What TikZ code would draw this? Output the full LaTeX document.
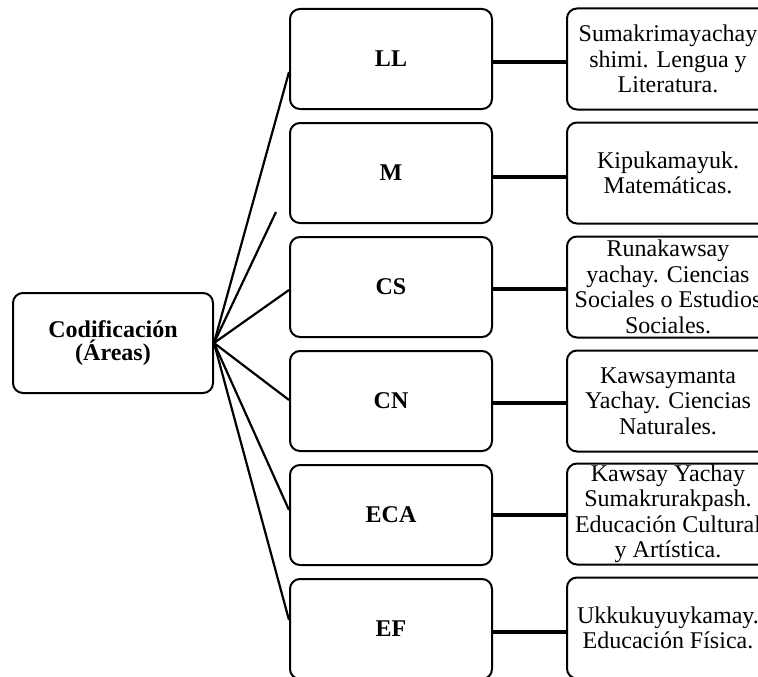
\documentclass[tikz,border=0pt]{standalone}
\usepackage{fontspec}
\setmainfont{Liberation Serif}
\begin{document}
\begin{tikzpicture}[x=1pt,y=-1pt,
  box/.style={draw, line width=2pt, rounded corners=10pt, minimum width=202pt,
    minimum height=100pt, inner sep=0pt, align=center},
  midbox/.style={box, font=\fontsize{24}{26}\selectfont\bfseries},
  descbox/.style={box, minimum height=101pt, font=\fontsize{24}{25.5}\selectfont},
  branch/.style={line width=2.2pt},
  link/.style={line width=3.4pt}]
\useasboundingbox (0,0) rectangle (758,677);
\clip (0,0) rectangle (758,677);

% root
\node[box, minimum width=200pt, font=\fontsize{24}{23.5}\selectfont\bfseries] (cod) at (113,343) {Codificación\\(Áreas)};

% middle column
\node[midbox] (ll)  at (391,59)  {LL};
\node[midbox] (m)   at (391,173) {M};
\node[midbox] (cs)  at (391,287) {CS};
\node[midbox] (cn)  at (391,401) {CN};
\node[midbox] (eca) at (391,515) {ECA};
\node[midbox] (ef)  at (391,629) {EF};

% right column
\node[descbox] (dll)  at (668,59)  {Sumakrimayachay\\shimi. Lengua y\\Literatura.};
\node[descbox] (dm)   at (668,173) {Kipukamayuk.\\Matemáticas.};
\node[descbox] (dcs)  at (668,287) {Runakawsay\\yachay. Ciencias\\Sociales o Estudios\\Sociales.};
\node[descbox] (dcn)  at (668,401) {Kawsaymanta\\Yachay. Ciencias\\Naturales.};
\node[descbox] (deca) at (668,514) {Kawsay Yachay\\Sumakrurakpash.\\Educación Cultural\\y Artística.};
\node[descbox] (def)  at (668,628) {Ukkukuyuykamay.\\Educación Física.};

% branches from root
\coordinate (stub) at (276,212);
\draw[branch] (cod.east) -- ([yshift=-13pt]ll.west);
\draw[branch] (cod.east) -- (stub);
\draw[branch] (cod.east) -- ([yshift=-3pt]cs.west);
\draw[branch] (cod.east) -- ([yshift=1pt]cn.west);
\draw[branch] (cod.east) -- ([yshift=5pt]eca.west);
\draw[branch] (cod.east) -- ([yshift=9pt]ef.west);

% horizontal links
\draw[link] ([yshift=-3pt]ll.east)  -- ([yshift=-3pt]ll.east -| dll.west);
\draw[link] ([yshift=-4pt]m.east)   -- ([yshift=-4pt]m.east -| dm.west);
\draw[link] ([yshift=-2pt]cs.east)  -- ([yshift=-2pt]cs.east -| dcs.west);
\draw[link] ([yshift=-2pt]cn.east)  -- ([yshift=-2pt]cn.east -| dcn.west);
\draw[link] (eca.east) -- (eca.east -| deca.west);
\draw[link] ([yshift=-3pt]ef.east)  -- ([yshift=-3pt]ef.east -| def.west);
\end{tikzpicture}
\end{document}
